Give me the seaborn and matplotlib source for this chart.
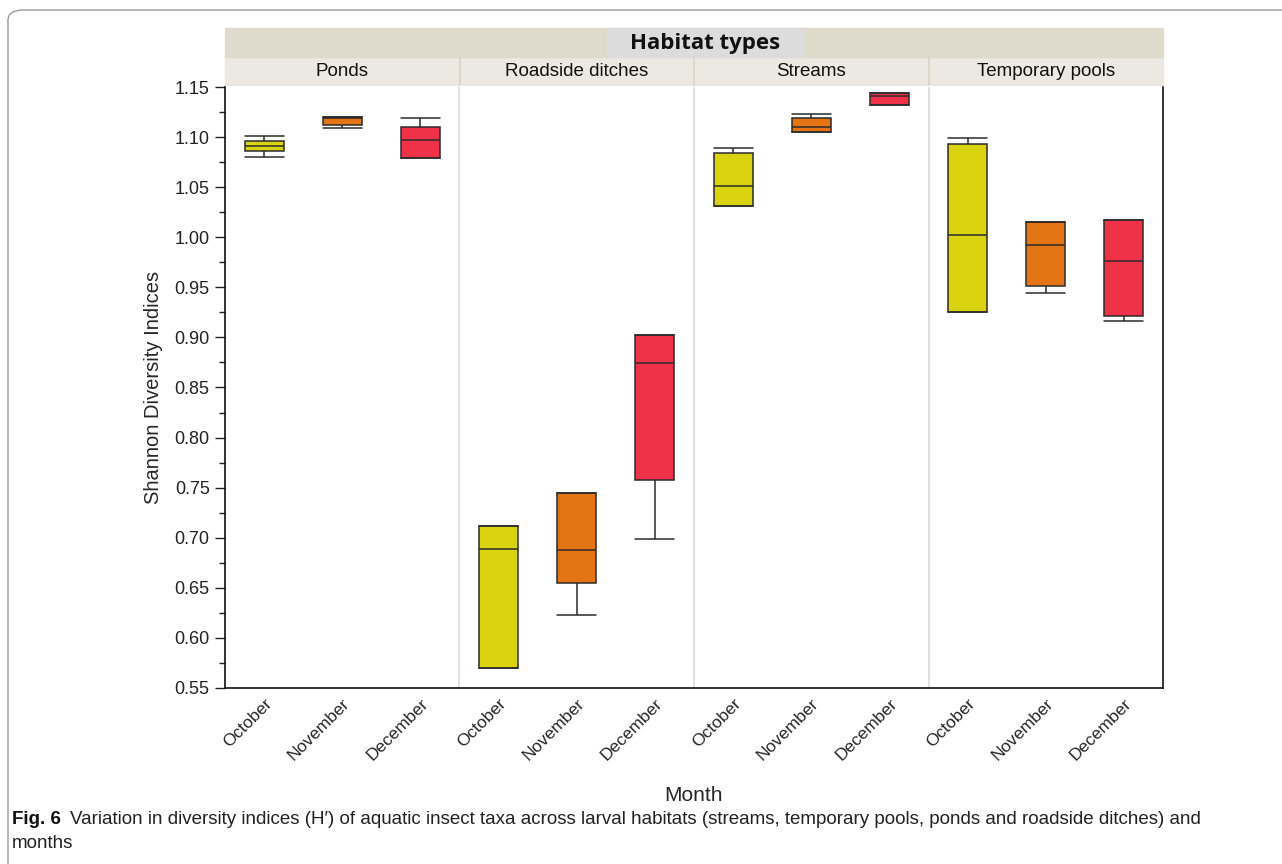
import pandas as pd
import seaborn as sns
import matplotlib.pyplot as plt
import matplotlib.patches as mpatches
from matplotlib.ticker import MultipleLocator, FormatStrFormatter

# --- data ---
habitats = ['Ponds', 'Roadside ditches', 'Streams', 'Temporary pools']
months = ['October', 'November', 'December']
month_colors = ['#d9d310', '#e57514', '#f03248']

# five-number summaries: lower whisker, Q1, median, Q3, upper whisker
ponds = [[1.080, 1.086, 1.091, 1.096, 1.101],
         [1.109, 1.112, 1.119, 1.120, 1.120],
         [1.079, 1.079, 1.097, 1.110, 1.119]]
ditches = [[0.570, 0.570, 0.689, 0.712, 0.712],
           [0.623, 0.655, 0.688, 0.745, 0.745],
           [0.699, 0.758, 0.874, 0.902, 0.902]]
streams = [[1.031, 1.031, 1.051, 1.084, 1.089],
           [1.105, 1.105, 1.110, 1.119, 1.123],
           [1.132, 1.132, 1.141, 1.144, 1.144]]
pools = [[0.925, 0.925, 1.002, 1.093, 1.099],
         [0.944, 0.951, 0.992, 1.015, 1.015],
         [0.916, 0.921, 0.976, 1.017, 1.017]]
summaries = [ponds, ditches, streams, pools]

rows = []
for hab, summ in zip(habitats, summaries):
    for mon, vals in zip(months, summ):
        for v in vals:
            rows.append({'slot': hab + '|' + mon, 'month': mon, 'value': v})
df = pd.DataFrame(rows)
slots = [h + '|' + m for h in habitats for m in months]

# --- figure ---
sns.set_style('ticks')
plt.rcParams['font.family'] = ['Liberation Sans', 'DejaVu Sans']

fig = plt.figure(figsize=(12.82, 8.64), dpi=100)
W, H = 1282, 864
x0, x1, y0, y1 = 225, 1163, 688, 87
ax = fig.add_axes([x0 / W, 1 - y0 / H, (x1 - x0) / W, (y0 - y1) / H])

sns.boxplot(data=df, x='slot', y='value', hue='month', order=slots,
            hue_order=months, palette=month_colors, saturation=1, dodge=False,
            width=0.5, linecolor='#2b2b2b', linewidth=1.1, showfliers=False,
            capwidths=0.5, legend=False, ax=ax)

ax.set_xlim(-0.5, 11.5)
ax.set_ylim(0.55, 1.15)
ax.yaxis.set_major_locator(MultipleLocator(0.05))
ax.yaxis.set_minor_locator(MultipleLocator(0.025))
ax.yaxis.set_major_formatter(FormatStrFormatter('%.2f'))
ax.tick_params(axis='y', which='major', length=7, width=1, labelsize=13, pad=4, colors='#222222')
ax.tick_params(axis='y', which='minor', length=4, width=1, colors='#222222')
ax.tick_params(axis='x', length=0, labelsize=12.5, pad=6)
ax.set_xticks(range(12))
ax.set_xticklabels(months * 4, rotation=45, ha='right', rotation_mode='anchor')
ax.set_xlabel('Month', fontsize=15, labelpad=16)
ax.set_ylabel('Shannon Diversity Indices', fontsize=14.5, labelpad=8)

for s in ['left', 'bottom', 'right']:
    ax.spines[s].set_color('#111111')
    ax.spines[s].set_linewidth(1.2)
ax.spines['top'].set_visible(False)

# panel separators
for xs in [2.5, 5.5, 8.5]:
    ax.axvline(xs, color='#dcdcdc', lw=1.2, zorder=0)

# strip bands
sx0, sx1 = x0 / W, x1 / W
fig.patches.append(mpatches.Rectangle((sx0, 1 - 85 / H), sx1 - sx0, 28 / H,
                                      transform=fig.transFigure, color='#ebe9e1', zorder=0))
fig.patches.append(mpatches.Rectangle((sx0, 1 - 57 / H), sx1 - sx0, 29 / H,
                                      transform=fig.transFigure, color='#dedbcc', zorder=0))
pw = (x1 - x0) / 4
for i, hab in enumerate(habitats):
    cx = (x0 + pw * (i + 0.5)) / W
    fig.text(cx, 1 - 71 / H, hab, ha='center', va='center', fontsize=13.5, color='#111111')
    if i > 0:
        xs = (x0 + pw * i) / W
        fig.add_artist(plt.Line2D([xs, xs], [1 - 85 / H, 1 - 57 / H],
                                  transform=fig.transFigure, color='#d8d4c4', lw=1.2))

fig.patches.append(mpatches.Rectangle((607 / W, 1 - 57 / H), 196 / W, 29 / H,
                                      transform=fig.transFigure, color='#dcdcdc', zorder=0))
fig.text(705 / W, 1 - 44 / H, 'Habitat types', ha='center', va='center',
         fontsize=16, fontweight='bold', family=['Open Sans', 'DejaVu Sans'], color='#111111')

# outer frame
fig.patches.append(mpatches.FancyBboxPatch((8 / W, -0.05), 1.2, 1 - 10 / H + 0.05,
                                           boxstyle='round,pad=0,rounding_size=0.012',
                                           transform=fig.transFigure, fill=False,
                                           edgecolor='#9a9a9a', lw=1.0))

# caption
fig.text(12 / W, 1 - 819 / H, 'Fig. 6', ha='left', va='center', fontsize=13.5,
         fontweight='bold', color='#111111')
fig.text(70 / W, 1 - 819 / H,
         'Variation in diversity indices (H\u2032) of aquatic insect taxa across larval habitats '
         '(streams, temporary pools, ponds and roadside ditches) and',
         ha='left', va='center', fontsize=13.5, color='#222222')
fig.text(12 / W, 1 - 843 / H, 'months', ha='left', va='center', fontsize=13.5, color='#222222')

plt.savefig('out.png', dpi=100)
